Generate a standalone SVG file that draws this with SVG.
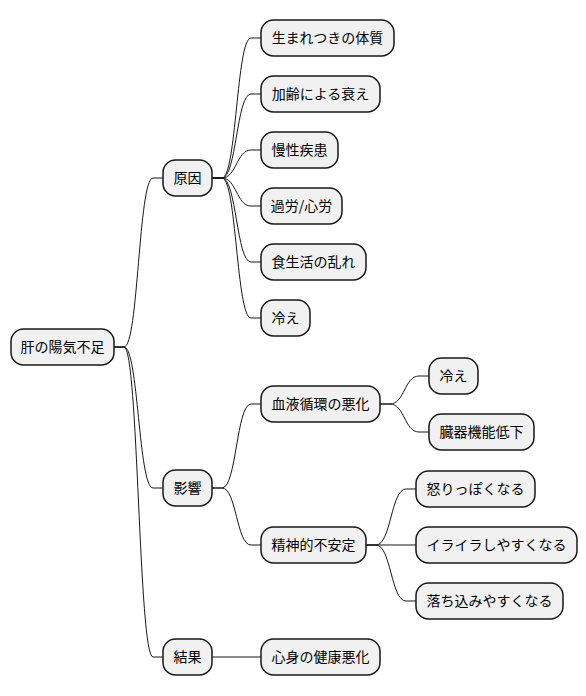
<svg xmlns="http://www.w3.org/2000/svg" width="586" height="696" viewBox="0 0 586 696">
<style>
.n rect{fill:#F1F1F1;stroke:#181818;stroke-width:1.5}
.n text{font-family:"Noto Sans CJK JP","Noto Sans",sans-serif;font-size:14px;fill:#000;text-anchor:middle}
#links path{fill:none;stroke:#181818;stroke-width:1}
</style>
<rect width="586" height="696" fill="#FFFFFF"/>
<g id="links">
<path d="M114,347 L124,347 C138.5,347 138.5,178 153,178 L163,178"/>
<path d="M114,347 L124,347 C138.5,347 138.5,488 153,488 L163,488"/>
<path d="M114,347 L124,347 C138.5,347 138.5,657 153,657 L163,657"/>
<path d="M212,178 L222,178 C236.5,178 236.5,38 251,38 L261,38"/>
<path d="M212,178 L222,178 C236.5,178 236.5,94 251,94 L261,94"/>
<path d="M212,178 L222,178 C236.5,178 236.5,150 251,150 L261,150"/>
<path d="M212,178 L222,178 C236.5,178 236.5,206 251,206 L261,206"/>
<path d="M212,178 L222,178 C236.5,178 236.5,262 251,262 L261,262"/>
<path d="M212,178 L222,178 C236.5,178 236.5,318 251,318 L261,318"/>
<path d="M212,488 L222,488 C236.5,488 236.5,404 251,404 L261,404"/>
<path d="M212,488 L222,488 C236.5,488 236.5,545 251,545 L261,545"/>
<path d="M380,404 L390,404 C404.5,404 404.5,376 419,376 L429,376"/>
<path d="M380,404 L390,404 C404.5,404 404.5,432 419,432 L429,432"/>
<path d="M366,545 L376,545 C391,545 391,489 406,489 L416,489"/>
<path d="M366,545 L416,545"/>
<path d="M366,545 L376,545 C391,545 391,601 406,601 L416,601"/>
<path d="M212,657 L261,657"/>
</g>
<g id="root" class="n"><rect x="11" y="329" width="103" height="36" rx="12.5"/><text x="62.5" y="352">肝の陽気不足</text></g>
<g id="cause" class="n"><rect x="163" y="160" width="49" height="36" rx="12.5"/><text x="187.5" y="183">原因</text></g>
<g id="c1" class="n"><rect x="261" y="20" width="133" height="36" rx="12.5"/><text x="327.5" y="43">生まれつきの体質</text></g>
<g id="c2" class="n"><rect x="261" y="76" width="119" height="36" rx="12.5"/><text x="320.5" y="99">加齢による衰え</text></g>
<g id="c3" class="n"><rect x="261" y="132" width="77" height="36" rx="12.5"/><text x="299.5" y="155">慢性疾患</text></g>
<g id="c4" class="n"><rect x="261" y="188" width="81" height="36" rx="12.5"/><text x="301.5" y="211">過労/心労</text></g>
<g id="c5" class="n"><rect x="261" y="244" width="105" height="36" rx="12.5"/><text x="313.5" y="267">食生活の乱れ</text></g>
<g id="c6" class="n"><rect x="261" y="300" width="49" height="36" rx="12.5"/><text x="285.5" y="323">冷え</text></g>
<g id="effect" class="n"><rect x="163" y="470" width="49" height="36" rx="12.5"/><text x="187.5" y="493">影響</text></g>
<g id="e1" class="n"><rect x="261" y="386" width="119" height="36" rx="12.5"/><text x="320.5" y="409">血液循環の悪化</text></g>
<g id="e1a" class="n"><rect x="429" y="358" width="49" height="36" rx="12.5"/><text x="453.5" y="381">冷え</text></g>
<g id="e1b" class="n"><rect x="429" y="414" width="105" height="36" rx="12.5"/><text x="481.5" y="437">臓器機能低下</text></g>
<g id="e2" class="n"><rect x="261" y="527" width="105" height="36" rx="12.5"/><text x="313.5" y="550">精神的不安定</text></g>
<g id="e2a" class="n"><rect x="416" y="471" width="119" height="36" rx="12.5"/><text x="475.5" y="494">怒りっぽくなる</text></g>
<g id="e2b" class="n"><rect x="416" y="527" width="161" height="36" rx="12.5"/><text x="496.5" y="550">イライラしやすくなる</text></g>
<g id="e2c" class="n"><rect x="416" y="583" width="147" height="36" rx="12.5"/><text x="489.5" y="606">落ち込みやすくなる</text></g>
<g id="result" class="n"><rect x="163" y="639" width="49" height="36" rx="12.5"/><text x="187.5" y="662">結果</text></g>
<g id="r1" class="n"><rect x="261" y="639" width="119" height="36" rx="12.5"/><text x="320.5" y="662">心身の健康悪化</text></g>
</svg>
